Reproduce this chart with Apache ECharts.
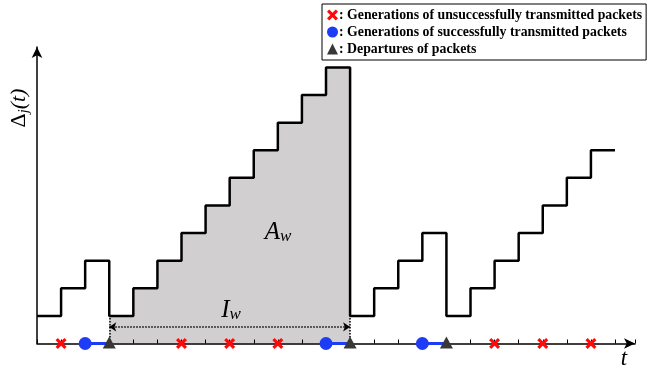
<!DOCTYPE html>
<html>
<head>
<meta charset="utf-8">
<script src="https://cdn.jsdelivr.net/npm/echarts@6/dist/echarts.min.js"></script>
<style>
  html, body { margin: 0; padding: 0; background: #fff; }
  #chart { width: 651px; height: 375px; }
</style>
</head>
<body>
<div id="chart"></div>
<script>
// age process: time slots and age value held from that slot on
const stepTimes = [0, 1, 2, 3, 4, 5, 6, 7, 8, 9, 10, 11, 12, 13, 14, 15, 16, 17, 18, 19, 20, 21, 22, 23, 24];
const ageValues = [1, 2, 3, 1, 2, 3, 4, 5, 6, 7, 8, 9, 10, 1, 2, 3, 4, 1, 2, 3, 4, 5, 6, 7, 7];

// events on the time axis
const failedGenTimes = [1, 6, 8, 10, 19, 21, 23];
const successGenTimes = [2, 12, 16];
const departureTimes = [3, 13, 17];

// shaded interval I_w
const intervalStart = 3;
const intervalEnd = 13;
const intervalArrowLevel = 0.6;

const legendNames = [
  'Generations of unsuccessfully transmitted packets',
  'Generations of successfully transmitted packets',
  'Departures of packets',
];

const CROSS_PATH = 'path://M2,0 L5,3 L8,0 L10,2 L7,5 L10,8 L8,10 L5,7 L2,10 L0,8 L3,5 L0,2 Z';
const SERIF = 'Liberation Serif';

const agePoints = stepTimes.map((t, i) => [t, ageValues[i]]);
const areaPoints = agePoints.filter((p) => p[0] >= intervalStart && p[0] <= intervalEnd);
const onAxis = (times) => times.map((t) => [t, 0]);

const chart = echarts.init(document.getElementById('chart'));

chart.setOption({
  animation: false,
  grid: { left: 37, right: 16, top: 47, bottom: 31.5 },
  xAxis: {
    type: 'value',
    min: 0,
    max: 24.83,
    interval: 1,
    z: 3,
    axisLine: {
      symbol: ['none', 'arrow'],
      symbolSize: [8, 11],
      lineStyle: { color: '#000', width: 1.5 },
    },
    axisTick: { inside: true, length: 4, lineStyle: { color: '#000', width: 1 } },
    axisLabel: { show: false },
    splitLine: { show: false },
  },
  yAxis: {
    type: 'value',
    min: 0,
    max: 10.74,
    axisLine: {
      show: true,
      symbol: ['none', 'arrow'],
      symbolSize: [8, 11],
      lineStyle: { color: '#000', width: 1.5 },
    },
    axisTick: { show: false },
    axisLabel: { show: false },
    splitLine: { show: false },
  },
  legend: {
    orient: 'vertical',
    left: 322,
    top: 4,
    padding: [3, 4, 3, 5],
    itemGap: 1,
    itemWidth: 11,
    itemHeight: 11,
    borderColor: '#000',
    borderWidth: 1,
    backgroundColor: '#fff',
    selectedMode: false,
    data: legendNames,
    formatter: (name) => ': ' + name,
    textStyle: {
      fontFamily: SERIF, fontWeight: 'bold', fontSize: 13.8, lineHeight: 16,
      color: '#000', padding: [0, 0, 0, -4],
    },
  },
  series: [
    {
      name: 'area',
      type: 'line',
      step: 'end',
      z: 1,
      symbol: 'none',
      data: areaPoints,
      lineStyle: { width: 0 },
      areaStyle: { color: '#d1cfd0', opacity: 1 },
    },
    {
      name: 'age',
      type: 'line',
      step: 'end',
      z: 4,
      symbol: 'none',
      data: agePoints,
      lineStyle: { color: '#000', width: 2.5 },
    },
    {
      name: 'interval',
      type: 'line',
      data: [],
      z: 4,
      markLine: {
        silent: true,
        label: { show: false },
        lineStyle: { color: '#000', type: 'dotted', width: 1.5 },
        data: [
          [
            { coord: [intervalStart, intervalArrowLevel], symbol: 'arrow', symbolSize: 7 },
            { coord: [intervalEnd, intervalArrowLevel], symbol: 'arrow', symbolSize: 7 },
          ],
          [
            { coord: [intervalStart, 0], symbol: 'none' },
            { coord: [intervalStart, ageValues[stepTimes.indexOf(intervalStart)]], symbol: 'none' },
          ],
          [
            { coord: [intervalEnd, 0], symbol: 'none' },
            { coord: [intervalEnd, ageValues[stepTimes.indexOf(intervalEnd)]], symbol: 'none' },
          ],
        ],
      },
    },
    {
      name: 'served',
      type: 'line',
      data: [],
      z: 4,
      markLine: {
        silent: true,
        symbol: 'none',
        label: { show: false },
        lineStyle: { color: '#1f3cf5', type: 'solid', width: 3 },
        data: successGenTimes.map((t, i) => [{ coord: [t, 0] }, { coord: [departureTimes[i], 0] }]),
      },
    },
    {
      name: legendNames[0],
      type: 'scatter',
      z: 6,
      symbol: CROSS_PATH,
      symbolSize: 11,
      itemStyle: { color: '#ff0a0a', opacity: 1 },
      data: onAxis(failedGenTimes),
    },
    {
      name: legendNames[1],
      type: 'scatter',
      z: 6,
      symbol: 'circle',
      symbolSize: 13,
      itemStyle: { color: '#1f3cf5', opacity: 1 },
      data: onAxis(successGenTimes),
    },
    {
      name: legendNames[2],
      type: 'scatter',
      z: 6,
      symbol: 'triangle',
      symbolSize: [13, 12],
      symbolOffset: [0, -1],
      itemStyle: { color: '#383838', opacity: 1 },
      data: onAxis(departureTimes),
    },
  ],
  graphic: [
    {
      type: 'text',
      x: 19,
      y: 108,
      rotation: Math.PI / 2,
      style: {
        text: '{d|Δ}{s|j}{m|(t)}',
        align: 'center',
        verticalAlign: 'middle',
        rich: {
          d: { fontFamily: SERIF, fontSize: 22, fill: '#000' },
          m: { fontFamily: SERIF, fontSize: 22, fontStyle: 'italic', fill: '#000' },
          s: { fontFamily: SERIF, fontSize: 14, fontStyle: 'italic', fill: '#000', padding: [10, 0, 0, 0] },
        },
      },
    },
    {
      type: 'text',
      x: 624,
      y: 359,
      style: {
        text: 't',
        align: 'center',
        verticalAlign: 'middle',
        font: 'italic 23px "Liberation Serif"',
        fill: '#000',
      },
    },
    {
      type: 'text',
      x: 231,
      y: 310,
      z: 10,
      style: {
        text: '{m|I}{s|w}',
        align: 'center',
        verticalAlign: 'middle',
        rich: {
          m: { fontFamily: SERIF, fontSize: 25, fontStyle: 'italic', fill: '#000' },
          s: { fontFamily: SERIF, fontSize: 17, fontStyle: 'italic', fill: '#000', padding: [9, 0, 0, 0] },
        },
      },
    },
    {
      type: 'text',
      x: 278,
      y: 232,
      z: 10,
      style: {
        text: '{m|A}{s|w}',
        align: 'center',
        verticalAlign: 'middle',
        rich: {
          m: { fontFamily: SERIF, fontSize: 25, fontStyle: 'italic', fill: '#000' },
          s: { fontFamily: SERIF, fontSize: 17, fontStyle: 'italic', fill: '#000', padding: [9, 0, 0, 0] },
        },
      },
    },
  ],
});
</script>
</body>
</html>
